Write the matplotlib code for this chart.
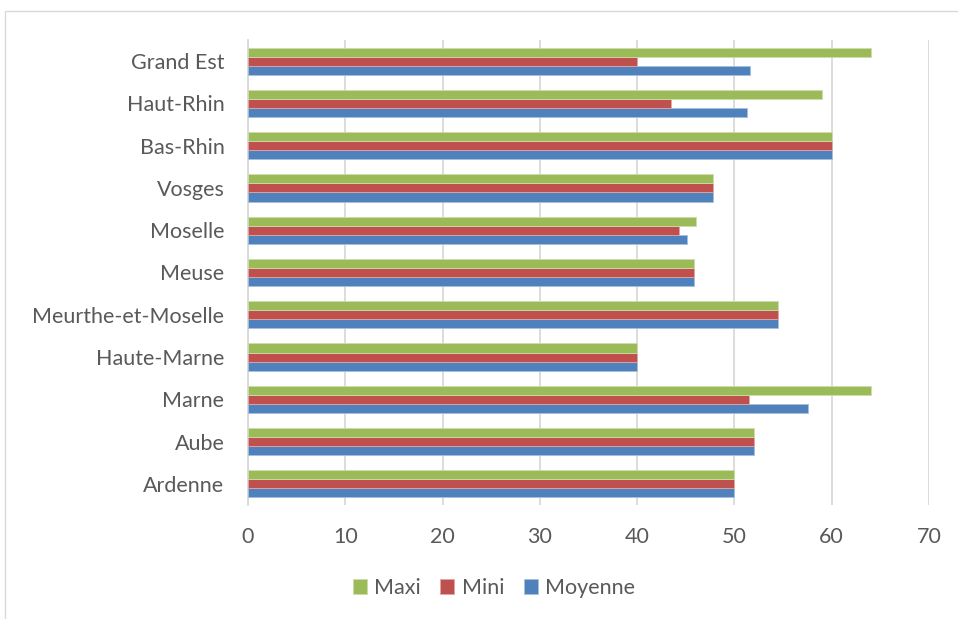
import numpy as np
import matplotlib.pyplot as plt
from matplotlib.patches import Rectangle

# categories from bottom to top
regions = ["Ardenne", "Aube", "Marne", "Haute-Marne", "Meurthe-et-Moselle",
           "Meuse", "Moselle", "Vosges", "Bas-Rhin", "Haut-Rhin", "Grand Est"]
maxi = [50, 52, 64, 40, 54.5, 45.8, 46.0, 47.8, 60, 59.0, 64]
mini = [50, 52, 51.5, 40, 54.5, 45.8, 44.3, 47.8, 60, 43.5, 40]
moyenne = [50, 52, 57.6, 40, 54.5, 45.8, 45.1, 47.8, 60, 51.3, 51.6]
xticks = [0, 10, 20, 30, 40, 50, 60, 70]

green = "#9BBB59"
red = "#C0504D"
blue = "#4F81BD"
txt = "#595959"
font = "Lato"
fs = 15.5

fig = plt.figure(figsize=(9.58, 6.19), dpi=100)
# chart border
fig.patches.append(Rectangle((5 / 958, -0.05), 1.2, (619 - 11) / 619 + 0.05,
                             transform=fig.transFigure, fill=False,
                             edgecolor="#D9D9D9", linewidth=1.0))

ax = fig.add_axes([248 / 958, 1 - 505 / 619, (929 - 248) / 958, (505 - 40) / 619])

y = np.arange(len(regions))
h = 0.215
ax.barh(y - h, moyenne, height=h, color=blue, edgecolor="#A7C0DE", linewidth=0.6, label="Moyenne", zorder=3)
ax.barh(y, mini, height=h, color=red, edgecolor="#DFA7A6", linewidth=0.6, label="Mini", zorder=3)
ax.barh(y + h, maxi, height=h, color=green, edgecolor="#CDDDAC", linewidth=0.6, label="Maxi", zorder=3)

ax.set_xlim(0, 70)
ax.set_ylim(-0.5, 10.5)
ax.set_xticks(xticks)
ax.set_yticks(y)
ax.set_yticklabels(regions)
ax.tick_params(length=0, labelsize=fs, colors=txt)
ax.tick_params(axis="y", pad=17)
ax.tick_params(axis="x", pad=16)
for lab in ax.get_xticklabels() + ax.get_yticklabels():
    lab.set_fontfamily(font)
ax.grid(axis="x", color="#D9D9D9", linewidth=1.3, zorder=0)
for s in ["top", "right", "bottom"]:
    ax.spines[s].set_visible(False)
ax.spines["left"].set_color("#D9D9D9")
ax.spines["left"].set_linewidth(1.3)

handles, labels = ax.get_legend_handles_labels()
leg = fig.legend(handles[::-1], labels[::-1], loc="center", bbox_to_anchor=(494 / 958, 1 - 588 / 619),
                 ncol=3, frameon=False, handlelength=0.65, handleheight=0.65,
                 handletextpad=0.35, columnspacing=0.9,
                 prop={"family": font, "size": fs})
for t in leg.get_texts():
    t.set_color(txt)

fig.savefig("out.png", dpi=100)
